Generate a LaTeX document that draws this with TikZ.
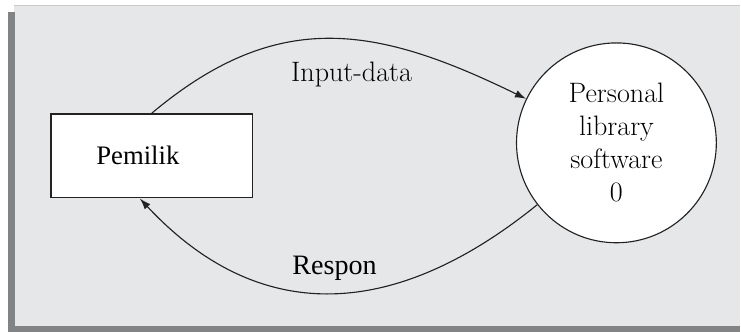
\documentclass[tikz,border=0pt]{standalone}
\usepackage{fontspec}
\newfontfamily\timesfont{Liberation Serif}
\usepackage{tikz}
\usetikzlibrary{arrows.meta,positioning}
\definecolor{panelgrey}{HTML}{E6E7E9}
\definecolor{rimgrey}{HTML}{C9CACC}
\definecolor{shadegrey}{HTML}{828385}
\definecolor{ink}{HTML}{222222}
\tikzset{
  ownerbox/.style={
    rectangle, draw=ink, fill=white, line width=1pt,
    minimum width=5.05cm, minimum height=2.1cm,
    font=\timesfont\fontsize{19}{22}\selectfont,
    inner sep=0pt
  },
  procnode/.style={
    circle, draw=ink, fill=white, line width=0.8pt,
    minimum size=5cm, inner sep=0pt, align=center,
    font=\fontsize{20}{23.5}\selectfont
  },
  flowarrow/.style={
    -{Latex[length=2.8mm,width=1.9mm]}, line width=0.8pt, color=ink
  },
  flowlabel/.style={font=#1\fontsize{20}{24}\selectfont, inner sep=0pt},
  flowlabel/.default=\rmfamily,
}

\begin{document}
\begin{tikzpicture}[x=0.025cm, y=-0.025cm]
  % panel
  \fill[white] (0,0) rectangle (741,332);
  \fill[panelgrey] (14,5) rectangle (741,326);
  \draw[rimgrey, line width=1.2pt] (14,5.5) -- (741,5.5);
  \fill[shadegrey] (8,12) rectangle (15,332);
  \fill[shadegrey] (8,326) rectangle (741,332);
  \useasboundingbox (0,0) rectangle (741,332);

  \node[ownerbox] at (152,156) (pem) {Pemilik\hspace*{0.7cm}};
  \node[procnode] at ([xshift=11.625cm, yshift=0.325cm]pem.center) (pls) {Personal\\library\\software\\0};

  \draw[flowarrow] (pem.north) to[out=40, in=154, looseness=1.13] (pls.154);
  \draw[flowarrow] (pls.218) to[out=219, in=-47, looseness=1.15] ([xshift=-0.3cm]pem.south);

  \node[flowlabel] at (352,75) (lblin) {Input-data};
  \node[flowlabel=\timesfont] at (335,268.5) (lblout) {Respon};
\end{tikzpicture}
\end{document}
